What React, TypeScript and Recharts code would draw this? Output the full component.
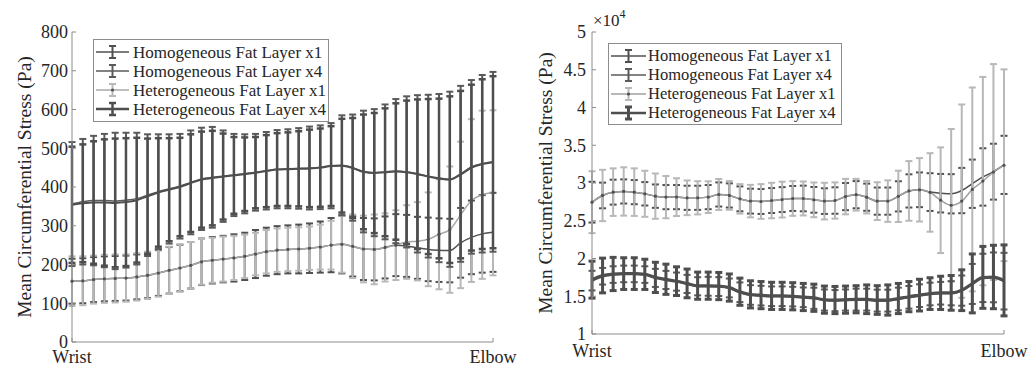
import React from 'react';
import { LineChart, Line, XAxis, YAxis, ErrorBar } from 'recharts';

const FONT = 'Liberation Serif, Times New Roman, Times, serif';
const TEXT = '#262626';
const AXIS = '#8c8c8c';

// 40 measurement stations from wrist (0) to elbow (39)
const stations = Array.from({ length: 40 }, (_, i) => i);
const xTickLabels = ['Wrist', 'Elbow'];
const seriesNames = [
  'Homogeneous Fat Layer x1',
  'Homogeneous Fat Layer x4',
  'Heterogeneous Fat Layer x1',
  'Heterogeneous Fat Layer x4',
];
const yTitle = 'Mean Circumferential Stress (Pa)';

// ---------- Left panel (Pa) ----------
const leftYTicks = [0, 100, 200, 300, 400, 500, 600, 700, 800];
const leftHomX1Mean = [157, 158, 161, 163, 164, 165, 168, 172, 178, 185, 191, 198, 207, 211, 214, 217, 221, 227, 233, 237, 239, 240, 242, 245, 250, 252, 247, 240, 239, 244, 250, 248, 243, 239, 237, 236, 256, 270, 279, 283];
const leftHomX1Err = [58, 58, 58, 58, 58, 58, 58, 59, 59, 60, 60, 60, 60, 60, 60, 61, 61, 62, 62, 62, 62, 63, 64, 66, 70, 75, 78, 80, 80, 80, 80, 80, 80, 82, 82, 82, 90, 95, 100, 102];
const leftHomX4Mean = [356, 362, 365, 365, 364, 366, 370, 379, 388, 395, 402, 412, 421, 425, 428, 431, 434, 438, 442, 446, 447, 448, 449, 451, 455, 456, 450, 440, 437, 439, 441, 439, 434, 428, 423, 420, 434, 452, 460, 465];
const leftHomX4Err = [160, 162, 167, 172, 176, 174, 170, 157, 148, 141, 135, 134, 132, 130, 118, 106, 102, 99, 100, 101, 102, 104, 107, 108, 110, 129, 137, 157, 164, 174, 186, 195, 203, 210, 217, 226, 227, 224, 229, 232];
const leftHeteX1Mean = [157, 158, 161, 163, 164, 165, 168, 172, 178, 185, 191, 198, 207, 211, 214, 217, 221, 227, 233, 237, 239, 240, 242, 245, 250, 252, 247, 240, 239, 244, 250, 258, 260, 265, 278, 290, 328, 365, 380, 385];
const leftHeteX1Err = [64, 63, 62, 62, 62, 61, 61, 61, 61, 61, 61, 60, 59, 58, 58, 57, 56, 55, 56, 56, 56, 56, 56, 58, 63, 73, 82, 86, 90, 88, 90, 95, 101, 121, 142, 163, 189, 210, 217, 213];
const leftHeteX4Mean = [354, 358, 360, 360, 359, 361, 366, 376, 386, 393, 400, 410, 419, 423, 427, 430, 433, 437, 441, 445, 446, 447, 448, 450, 454, 455, 449, 439, 436, 438, 440, 438, 433, 427, 422, 419, 432, 450, 459, 464];
const leftHeteX4Err = [150, 152, 158, 163, 166, 165, 161, 149, 140, 133, 127, 126, 124, 122, 111, 99, 95, 92, 93, 94, 95, 97, 100, 101, 103, 121, 129, 148, 155, 165, 176, 185, 193, 200, 206, 215, 216, 214, 219, 222];

// ---------- Right panel (Pa) ----------
const rightYTicks = [10000, 15000, 20000, 25000, 30000, 35000, 40000, 45000, 50000];
const rightHomX1Mean = [27460, 28350, 28790, 28880, 28790, 28570, 28260, 28130, 28130, 28040, 28040, 28130, 28480, 28350, 27900, 27600, 27550, 27680, 27800, 27950, 27950, 27770, 27600, 27680, 28200, 28450, 28120, 27600, 27600, 28230, 28950, 29100, 28800, 28650, 28570, 29000, 29900, 30800, 31500, 32400];
const rightHomX1Err = [2700, 1700, 1650, 1600, 1600, 1550, 1550, 1600, 1600, 1600, 1600, 1600, 1600, 1600, 1650, 1650, 1650, 1650, 1650, 1650, 1700, 1700, 1700, 1750, 1800, 1800, 1800, 1800, 1800, 2000, 2200, 2300, 2500, 2550, 2600, 3000, 3200, 3800, 3700, 3850];
const rightHeteX1Mean = [27460, 28350, 28790, 28880, 28790, 28570, 28260, 28130, 28130, 28040, 28040, 28130, 28480, 28350, 27900, 27600, 27550, 27680, 27800, 27950, 27950, 27770, 27600, 27680, 28200, 28450, 28120, 27600, 27600, 28230, 28950, 29100, 28750, 27720, 27050, 27600, 29150, 30250, 31450, 32350];
const rightHeteX1Err = [4100, 3400, 3150, 3200, 3150, 3050, 3000, 2800, 2500, 2300, 2200, 2100, 2050, 1900, 1950, 2150, 2300, 2350, 2370, 2300, 2250, 2300, 2430, 2400, 2350, 2100, 2150, 2500, 2750, 3400, 3950, 4200, 5200, 7000, 10100, 12800, 13500, 13800, 14300, 12700];
const rightHomX4Mean = [17070, 17650, 17870, 17960, 17960, 17870, 17430, 17160, 16940, 16630, 16320, 16320, 16280, 16100, 15530, 15170, 15080, 15000, 15000, 14950, 14860, 14730, 14500, 14420, 14500, 14550, 14550, 14420, 14420, 14640, 14860, 15080, 15300, 15400, 15400, 15750, 16630, 17430, 17500, 17000];
const rightHomX4Err = [1300, 1100, 1100, 1100, 1100, 1100, 1200, 1200, 1200, 1200, 1200, 1250, 1250, 1250, 1300, 1300, 1300, 1300, 1300, 1300, 1300, 1400, 1400, 1400, 1400, 1450, 1450, 1450, 1450, 1500, 1500, 1500, 1500, 1500, 1600, 2000, 2650, 3200, 3300, 3750];
const rightHeteX4Mean = [17200, 17750, 17950, 18000, 18000, 17900, 17500, 17250, 17000, 16700, 16400, 16400, 16350, 16150, 15600, 15250, 15150, 15050, 15050, 15000, 14900, 14800, 14550, 14500, 14550, 14600, 14600, 14500, 14500, 14700, 14950, 15150, 15350, 15450, 15450, 15800, 16700, 17500, 17550, 17100];
const rightHeteX4Err = [2450, 2300, 2200, 2100, 2100, 2000, 2000, 2000, 1900, 1900, 1800, 1800, 1800, 1800, 1800, 1800, 1800, 1800, 1800, 1800, 1800, 1800, 1800, 1800, 1800, 1800, 1900, 1900, 2000, 2000, 2000, 2100, 2100, 2200, 2300, 2700, 3900, 4100, 4200, 4700];

type SeriesStyle = {
  key: string;
  name: string;
  line: string;
  bar: string;
  lw: number;
  bw: number;
  dot: boolean;
};

const styles: SeriesStyle[] = [
  { key: 'homX1', name: seriesNames[0], line: '#505050', bar: '#505050', lw: 1.5, bw: 2, dot: false },
  { key: 'heteX1', name: seriesNames[2], line: '#a8a8a8', bar: '#b8b8b8', lw: 1.5, bw: 2, dot: true },
  { key: 'homX4', name: seriesNames[1], line: '#5a5a5a', bar: '#5a5a5a', lw: 1.5, bw: 2, dot: false },
  { key: 'heteX4', name: seriesNames[3], line: '#4e4e4e', bar: '#4e4e4e', lw: 2, bw: 2.5, dot: false },
];
const rightStyles: SeriesStyle[] = [
  { key: 'homX1', name: seriesNames[0], line: '#505050', bar: '#505050', lw: 1.5, bw: 2, dot: false },
  { key: 'heteX1', name: seriesNames[2], line: '#a0a0a0', bar: '#b8b8b8', lw: 1.5, bw: 2, dot: true },
  { key: 'homX4', name: seriesNames[1], line: '#5a5a5a', bar: '#5a5a5a', lw: 2.5, bw: 2, dot: false },
  { key: 'heteX4', name: seriesNames[3], line: '#4e4e4e', bar: '#4e4e4e', lw: 3, bw: 3, dot: false },
];
const legendOrder = ['homX1', 'homX4', 'heteX1', 'heteX4'];

const leftData = stations.map((s, i) => ({
  s,
  homX1: leftHomX1Mean[i], homX1Err: leftHomX1Err[i],
  homX4: leftHomX4Mean[i], homX4Err: leftHomX4Err[i],
  heteX1: leftHeteX1Mean[i], heteX1Err: leftHeteX1Err[i],
  heteX4: leftHeteX4Mean[i], heteX4Err: leftHeteX4Err[i],
}));
const rightData = stations.map((s, i) => ({
  s,
  homX1: rightHomX1Mean[i], homX1Err: rightHomX1Err[i],
  homX4: rightHomX4Mean[i], homX4Err: rightHomX4Err[i],
  heteX1: rightHeteX1Mean[i], heteX1Err: rightHeteX1Err[i],
  heteX4: rightHeteX4Mean[i], heteX4Err: rightHeteX4Err[i],
}));

const textStyle = (size: number): React.CSSProperties => ({ fontFamily: FONT, fontSize: size, fill: TEXT });

function makeYTick(fmt: (v: number) => string, margin: number) {
  return (props: any) => {
    const { x, y, payload } = props;
    const ax = x + margin;
    return (
      <g>
        <text x={x} y={y} dy="0.35em" textAnchor="end" style={textStyle(18)}>
          {fmt(payload.value)}
        </text>
        <line x1={ax} x2={ax + 4} y1={y} y2={y} stroke={AXIS} strokeWidth={1} />
      </g>
    );
  };
}

function makeXTick(margin: number) {
  return (props: any) => {
    const { x, y, payload } = props;
    const ay = y - margin;
    const label = payload.value === 0 ? xTickLabels[0] : xTickLabels[1];
    return (
      <g>
        <line x1={x} x2={x} y1={ay} y2={ay - 4} stroke={AXIS} strokeWidth={1} />
        <text x={x} y={y} dy="0.7em" textAnchor="middle" style={textStyle(18)}>
          {label}
        </text>
      </g>
    );
  };
}

function YTitle(props: any) {
  const { cx, cy, exp } = props;
  return (
    <g>
      <text
        x={cx}
        y={cy}
        transform={`rotate(-90 ${cx} ${cy})`}
        textAnchor="middle"
        dominantBaseline="middle"
        style={textStyle(19.5)}
      >
        {yTitle}
      </text>
      {exp ? (
        <text x={73} y={26} style={textStyle(17)}>
          ×10<tspan dy={-8} style={{ fontSize: 12 }}>4</tspan>
        </text>
      ) : null}
    </g>
  );
}

type PanelProps = {
  left: number;
  width: number;
  data: any[];
  series: SeriesStyle[];
  domain: [number, number];
  ticks: number[];
  fmt: (v: number) => string;
  rightMargin: number;
  xAxisHeight: number;
  yTickMargin: number;
  xTickMargin: number;
  titleCx: number;
  titleCy: number;
  exp: boolean;
};

function Panel(p: PanelProps) {
  return (
    <div style={{ position: 'absolute', left: p.left, top: 0 }}>
      <LineChart
        width={p.width}
        height={366}
        data={p.data}
        margin={{ top: 32, right: p.rightMargin, left: 12, bottom: 0 }}
        style={{ overflow: 'visible' }}
      >
        <XAxis
          dataKey="s"
          type="number"
          domain={[0, 39]}
          ticks={[0, 39]}
          interval={0}
          height={p.xAxisHeight}
          tickSize={0}
          tickMargin={p.xTickMargin}
          axisLine={{ stroke: AXIS }}
          tickLine={false}
          tick={makeXTick(p.xTickMargin)}
        />
        <YAxis
          type="number"
          domain={p.domain}
          ticks={p.ticks}
          interval={0}
          width={60}
          tickSize={0}
          tickMargin={p.yTickMargin}
          axisLine={{ stroke: AXIS }}
          tickLine={false}
          tick={makeYTick(p.fmt, p.yTickMargin)}
          label={<YTitle cx={p.titleCx} cy={p.titleCy} exp={p.exp} />}
        />
        {p.series.map((sr) => (
          <Line
            key={sr.key}
            dataKey={sr.key}
            name={sr.name}
            type="monotone"
            stroke={sr.line}
            strokeWidth={sr.lw}
            dot={sr.dot ? { r: 1.6, fill: '#505050', stroke: 'none' } : false}
            activeDot={false}
            isAnimationActive={false}
          >
            <ErrorBar
              dataKey={sr.key + 'Err'}
              direction="y"
              width={3.5}
              stroke={sr.bar}
              strokeWidth={sr.bw}
              isAnimationActive={false}
            />
          </Line>
        ))}
      </LineChart>
    </div>
  );
}

type LegendProps = {
  x: number;
  y: number;
  w: number;
  h: number;
  rowY: number[];
  iconX: number;
  iconW: number;
  textX: number;
  fontSize: number;
  series: SeriesStyle[];
};

function LegendBox(p: LegendProps) {
  const byKey: Record<string, SeriesStyle> = {};
  p.series.forEach((s) => (byKey[s.key] = s));
  return (
    <svg
      width={1029}
      height={366}
      style={{ position: 'absolute', left: 0, top: 0, pointerEvents: 'none' }}
    >
      <rect x={p.x + 0.5} y={p.y + 0.5} width={p.w} height={p.h} fill="#fff" stroke="#8c8c8c" strokeWidth={1} />
      {legendOrder.map((k, i) => {
        const s = byKey[k];
        const cy = p.rowY[i];
        const cx = p.iconX + p.iconW / 2;
        const lw = s.key === 'heteX4' ? 2.5 : 1.6;
        return (
          <g key={k}>
            <line x1={p.iconX} x2={p.iconX + p.iconW} y1={cy} y2={cy} stroke={s.line} strokeWidth={lw} />
            <line x1={cx} x2={cx} y1={cy - 6} y2={cy + 6} stroke={s.bar} strokeWidth={s.bw} />
            <line x1={cx - 3.5} x2={cx + 3.5} y1={cy - 6} y2={cy - 6} stroke={s.bar} strokeWidth={s.bw} />
            <line x1={cx - 3.5} x2={cx + 3.5} y1={cy + 6} y2={cy + 6} stroke={s.bar} strokeWidth={s.bw} />
            {s.dot ? <circle cx={cx} cy={cy} r={1.6} fill="#505050" /> : null}
            <text x={p.textX} y={cy} dy="0.33em" style={textStyle(p.fontSize)}>
              {s.name}
            </text>
          </g>
        );
      })}
    </svg>
  );
}

export default function App() {
  return (
    <div style={{ position: 'absolute', left: 0, top: 0, width: 1029, height: 366, background: '#fff', overflow: 'hidden' }}>
      <Panel
        left={0}
        width={520}
        data={leftData}
        series={styles}
        domain={[0, 800]}
        ticks={leftYTicks}
        fmt={(v) => String(v)}
        rightMargin={27}
        xAxisHeight={24}
        yTickMargin={4}
        xTickMargin={8}
        titleCx={27}
        titleCy={187}
        exp={false}
      />
      <Panel
        left={520}
        width={509}
        data={rightData}
        series={rightStyles}
        domain={[10000, 50000]}
        ticks={rightYTicks}
        fmt={(v) => String(v / 10000)}
        rightMargin={25}
        xAxisHeight={32}
        yTickMargin={6}
        xTickMargin={10}
        titleCx={28}
        titleCy={183}
        exp={true}
      />
      <LegendBox
        x={93}
        y={39}
        w={235}
        h={82}
        rowY={[52, 71, 90, 109]}
        iconX={96}
        iconW={33}
        textX={133}
        fontSize={17}
        series={styles}
      />
      <LegendBox
        x={608}
        y={43}
        w={233}
        h={81}
        rowY={[56, 75, 94, 113]}
        iconX={611}
        iconW={35}
        textX={648}
        fontSize={16.5}
        series={rightStyles}
      />
    </div>
  );
}
